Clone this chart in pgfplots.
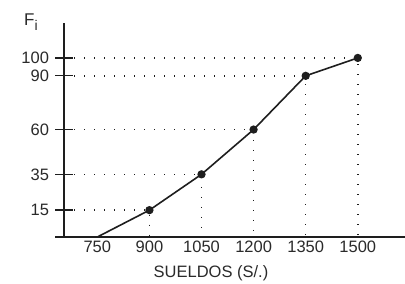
\documentclass[border=0pt]{standalone}
\usepackage{pgfplots}
\pgfplotsset{compat=1.18}
\usepackage{fontspec}
\setmainfont{Liberation Sans}
\definecolor{ink}{HTML}{1E1E1E}
\definecolor{txt}{HTML}{2A2A2A}
\begin{document}
\begin{tikzpicture}
\useasboundingbox (0,0) rectangle (405bp,284bp);
\begin{axis}[
  at={(64bp,47bp)}, anchor=south west,
  width=341bp, height=214bp, scale only axis,
  xmin=654, xmax=1636, ymin=0, ymax=119.5,
  axis x line*=bottom, axis y line*=left,
  axis line style={-, draw=ink, line width=1.3bp},
  xtick={750,900,1050,1200,1350,1500},
  ytick={15,35,60,90,100},
  x tick style={draw=none},
  y tick style={draw=ink, line width=1.3bp},
  major tick length=17bp, tick align=center,
  /pgf/number format/assume math mode=true,
  /pgf/number format/1000 sep={},
  tick label style={font=\fontsize{16.5bp}{19bp}\selectfont, text=txt},
  yticklabel style={xshift=-3bp},
  xticklabel style={yshift=8bp},
  xlabel={SUELDOS (S/.)},
  xlabel style={at={(axis description cs:0.431,0)}, anchor=center, yshift=-36bp, font=\fontsize{16.5bp}{19bp}\selectfont, text=txt},
  clip=false,
]
\addplot[ink, line width=1.5bp, dash pattern=on 1.3bp off 8.7bp] coordinates {(654,15)(900,15)(900,0)};
\addplot[ink, line width=1.5bp, dash pattern=on 1.3bp off 8.7bp] coordinates {(654,35)(1050,35)(1050,0)};
\addplot[ink, line width=1.5bp, dash pattern=on 1.3bp off 8.7bp] coordinates {(654,60)(1200,60)(1200,0)};
\addplot[ink, line width=1.5bp, dash pattern=on 1.3bp off 8.7bp] coordinates {(654,90)(1350,90)(1350,0)};
\addplot[ink, line width=1.5bp, dash pattern=on 1.3bp off 8.7bp] coordinates {(654,100)(1500,100)(1500,0)};
\addplot[ink, line width=1.6bp, mark=*, mark size=3.3bp, mark options={fill=ink, draw=ink}, mark indices={2,3,4,5,6}] coordinates {(750,0)(900,15)(1050,35)(1200,60)(1350,90)(1500,100)};
\draw[ink, line width=1.3bp] (axis cs:654,0) -- (axis cs:629.5,0);
\end{axis}
\node[text=txt, anchor=base west, inner sep=0pt, font=\fontsize{17bp}{19bp}\selectfont] at (24bp,258bp) {F\textsubscript{\fontsize{14bp}{15bp}\selectfont i}};
\end{tikzpicture}
\end{document}
